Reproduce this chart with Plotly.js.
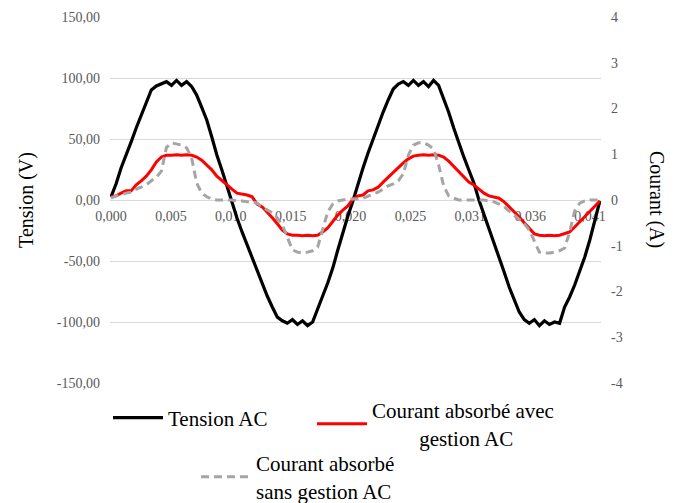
<!DOCTYPE html>
<html>
<head>
<meta charset="utf-8">
<script src="https://cdn.plot.ly/plotly-3.0.1.min.js"></script>
<style>
html,body{margin:0;padding:0;background:#ffffff;}
#chart{width:680px;height:503px;}
</style>
</head>
<body>
<div id="chart"></div>
<script>
// Sampling of the measured curves (uniform time step, seconds)
const timeStart = 0;
const timeStep = 0.00042835;

// Tension AC (V) - left axis
const tensionAC = [
  2.5, 13.1, 26.2, 36.1, 47.6, 59.0, 69.7, 81.2, 90.2, 93.5,
  95, 97, 94, 98, 94, 97, 93, 86, 76, 65.6,
  51.7, 36.9, 24.6, 11.5, -2.5, -14.8, -26.2, -36.9, -48.4, -59,
  -69.7, -78.7, -87.7, -96, -99, -101, -98, -102, -99, -103,
  -100, -90, -78.7, -68, -55.8, -41, -26.2, -13.1, -0.8, 13.1,
  26.2, 38.5, 50, 61.5, 72.1, 82, 91, 95, 97, 94,
  98, 94, 97, 93, 98, 94, 83.6, 72, 59, 46.7,
  35.3, 24.6, 14, 0, -11.5, -23, -34.4, -46.7, -59, -71.3,
  -82, -91.8, -98, -101, -98, -103, -99, -102, -100, -101,
  -87.7, -79.5, -69.7, -59, -46.7, -32.8, -18, -0.8
];

// Courant absorbé avec gestion AC (A) - right axis
const courantAvecGestion = [
  0.07, 0.09, 0.15, 0.2, 0.2, 0.33, 0.42, 0.52, 0.66, 0.83,
  0.94, 0.98, 0.98, 0.99, 0.98, 0.99, 0.98, 0.94, 0.87, 0.77,
  0.66, 0.52, 0.42, 0.33, 0.24, 0.15, 0.13, 0.11, 0.07, -0.09,
  -0.15, -0.26, -0.39, -0.52, -0.66, -0.74, -0.77, -0.77, -0.78, -0.77,
  -0.78, -0.77, -0.70, -0.61, -0.46, -0.33, -0.22, -0.13, 0.02, 0.09,
  0.11, 0.2, 0.22, 0.28, 0.39, 0.5, 0.59, 0.7, 0.81, 0.9,
  0.96, 0.98, 0.99, 0.98, 0.99, 0.98, 0.94, 0.85, 0.74, 0.61,
  0.5, 0.39, 0.33, 0.24, 0.15, 0.09, 0.07, 0.04, -0.04, -0.15,
  -0.24, -0.37, -0.5, -0.63, -0.74, -0.77, -0.78, -0.77, -0.78, -0.77,
  -0.74, -0.70, -0.59, -0.48, -0.37, -0.24, -0.13, -0.02
];

// Courant absorbé sans gestion AC (A) - right axis
const courantSansGestion = [
  0.04, 0.09, 0.11, 0.15, 0.17, 0.24, 0.28, 0.33, 0.42, 0.5,
  0.63, 1.15, 1.25, 1.22, 1.2, 1.14, 0.92, 0.37, 0.15, 0.07,
  0.02, 0, 0, 0, 0, -0.02, -0.02, -0.04, -0.04, -0.07,
  -0.15, -0.22, -0.28, -0.39, -0.55, -0.81, -1.09, -1.14, -1.16, -1.14,
  -1.11, -1.03, -0.66, -0.26, -0.09, -0.02, 0, 0.02, 0.02, 0.02,
  0.04, 0.09, 0.13, 0.17, 0.24, 0.31, 0.35, 0.42, 0.57, 0.98,
  1.2, 1.25, 1.25, 1.2, 1.11, 0.77, 0.31, 0.09, 0.04, 0,
  0, 0, 0, 0, 0, -0.02, -0.04, -0.09, -0.15, -0.24,
  -0.33, -0.42, -0.52, -0.66, -0.9, -1.14, -1.16, -1.16, -1.14, -1.11,
  -1.05, -0.7, -0.24, -0.07, -0.02, 0, 0, 0
];

// Category-axis labels (time, s)
const xTickValues = [0, 0.00509, 0.01018, 0.01527, 0.02036, 0.02545, 0.03054, 0.03563, 0.04072];
const xTickLabels = ["0,000", "0,005", "0,010", "0,015", "0,020", "0,025", "0,031", "0,036", "0,041"];

const leftTickValues = [-150, -100, -50, 0, 50, 100, 150];
const leftTickLabels = ["-150,00", "-100,00", "-50,00", "0,00", "50,00", "100,00", "150,00"];

const rightTickValues = [-4, -3, -2, -1, 0, 1, 2, 3, 4];
const rightTickLabels = ["-4", "-3", "-2", "-1", "0", "1", "2", "3", "4"];

const seriesNames = [
  "Tension AC",
  "Courant absorbé avec<br>&nbsp;&nbsp;&nbsp;&nbsp;&nbsp;&nbsp;&nbsp;&nbsp;&nbsp;gestion AC",
  "Courant absorbé<br>sans gestion AC"
];

const time = tensionAC.map((_, i) => timeStart + i * timeStep);

const serif = '"Liberation Serif", "Times New Roman", Times, serif';

const traces = [
  {
    x: time, y: tensionAC, type: 'scatter', mode: 'lines',
    name: seriesNames[0], legend: 'legend',
    line: {color: '#000000', width: 3.2}, yaxis: 'y', hoverinfo: 'skip'
  },
  {
    x: time, y: courantAvecGestion, type: 'scatter', mode: 'lines',
    name: seriesNames[1], legend: 'legend2',
    line: {color: '#FF0000', width: 3}, yaxis: 'y2', hoverinfo: 'skip'
  },
  {
    x: time, y: courantSansGestion, type: 'scatter', mode: 'lines',
    name: seriesNames[2], legend: 'legend3',
    line: {color: '#A5A5A5', width: 3, dash: '8px,5px'}, yaxis: 'y2', hoverinfo: 'skip'
  }
];

const legendBase = {
  orientation: 'v', xanchor: 'left', yanchor: 'middle',
  font: {family: serif, size: 21, color: '#000000'},
  itemwidth: 50, bgcolor: 'rgba(0,0,0,0)', borderwidth: 0
};

const layout = {
  width: 680, height: 503,
  margin: {l: 110, r: 79, t: 17, b: 120, autoexpand: false},
  paper_bgcolor: '#ffffff', plot_bgcolor: '#ffffff',
  font: {family: serif, size: 14, color: '#595959'},
  showlegend: true,
  xaxis: {
    range: [-0.000085, 0.041645], anchor: 'free', position: 0.5,
    tickmode: 'array', tickvals: xTickValues, ticktext: xTickLabels,
    showgrid: false, zeroline: false, showline: false, ticks: '',
    ticklabelstandoff: 6, layer: 'below traces',
    tickfont: {family: serif, size: 14, color: '#595959'}
  },
  yaxis: {
    range: [-150, 150], tickmode: 'array', tickvals: leftTickValues, ticktext: leftTickLabels,
    showgrid: true, gridcolor: '#D9D9D9', gridwidth: 1,
    zeroline: true, zerolinecolor: '#D9D9D9', zerolinewidth: 1,
    showline: false, ticks: '', ticklabelstandoff: 9,
    tickfont: {family: serif, size: 14, color: '#595959'},
    title: {text: 'Tension (V)', font: {family: serif, size: 20, color: '#000000'}, standoff: 17}
  },
  yaxis2: {
    range: [-4, 4], overlaying: 'y', side: 'right', anchor: 'x',
    tickmode: 'array', tickvals: rightTickValues, ticktext: rightTickLabels,
    showgrid: false, zeroline: false, showline: false, ticks: '', ticklabelstandoff: 9,
    tickfont: {family: serif, size: 14, color: '#595959'}
  },
  legend: Object.assign({}, legendBase, {x: (108 - 110) / 491, y: (383 - 418) / 366}),
  legend2: Object.assign({}, legendBase, {x: (312 - 110) / 491, y: (383 - 424) / 366}),
  legend3: Object.assign({}, legendBase, {x: (196 - 110) / 491, y: (383 - 477) / 366}),
  annotations: [{
    text: 'Courant (A)', textangle: 90, xref: 'paper', yref: 'paper',
    x: 1.114, y: 0.5, xanchor: 'center', yanchor: 'middle', showarrow: false,
    font: {family: serif, size: 20, color: '#000000'}
  }]
};

Plotly.newPlot('chart', traces, layout, {displayModeBar: false, staticPlot: true});
</script>
</body>
</html>
